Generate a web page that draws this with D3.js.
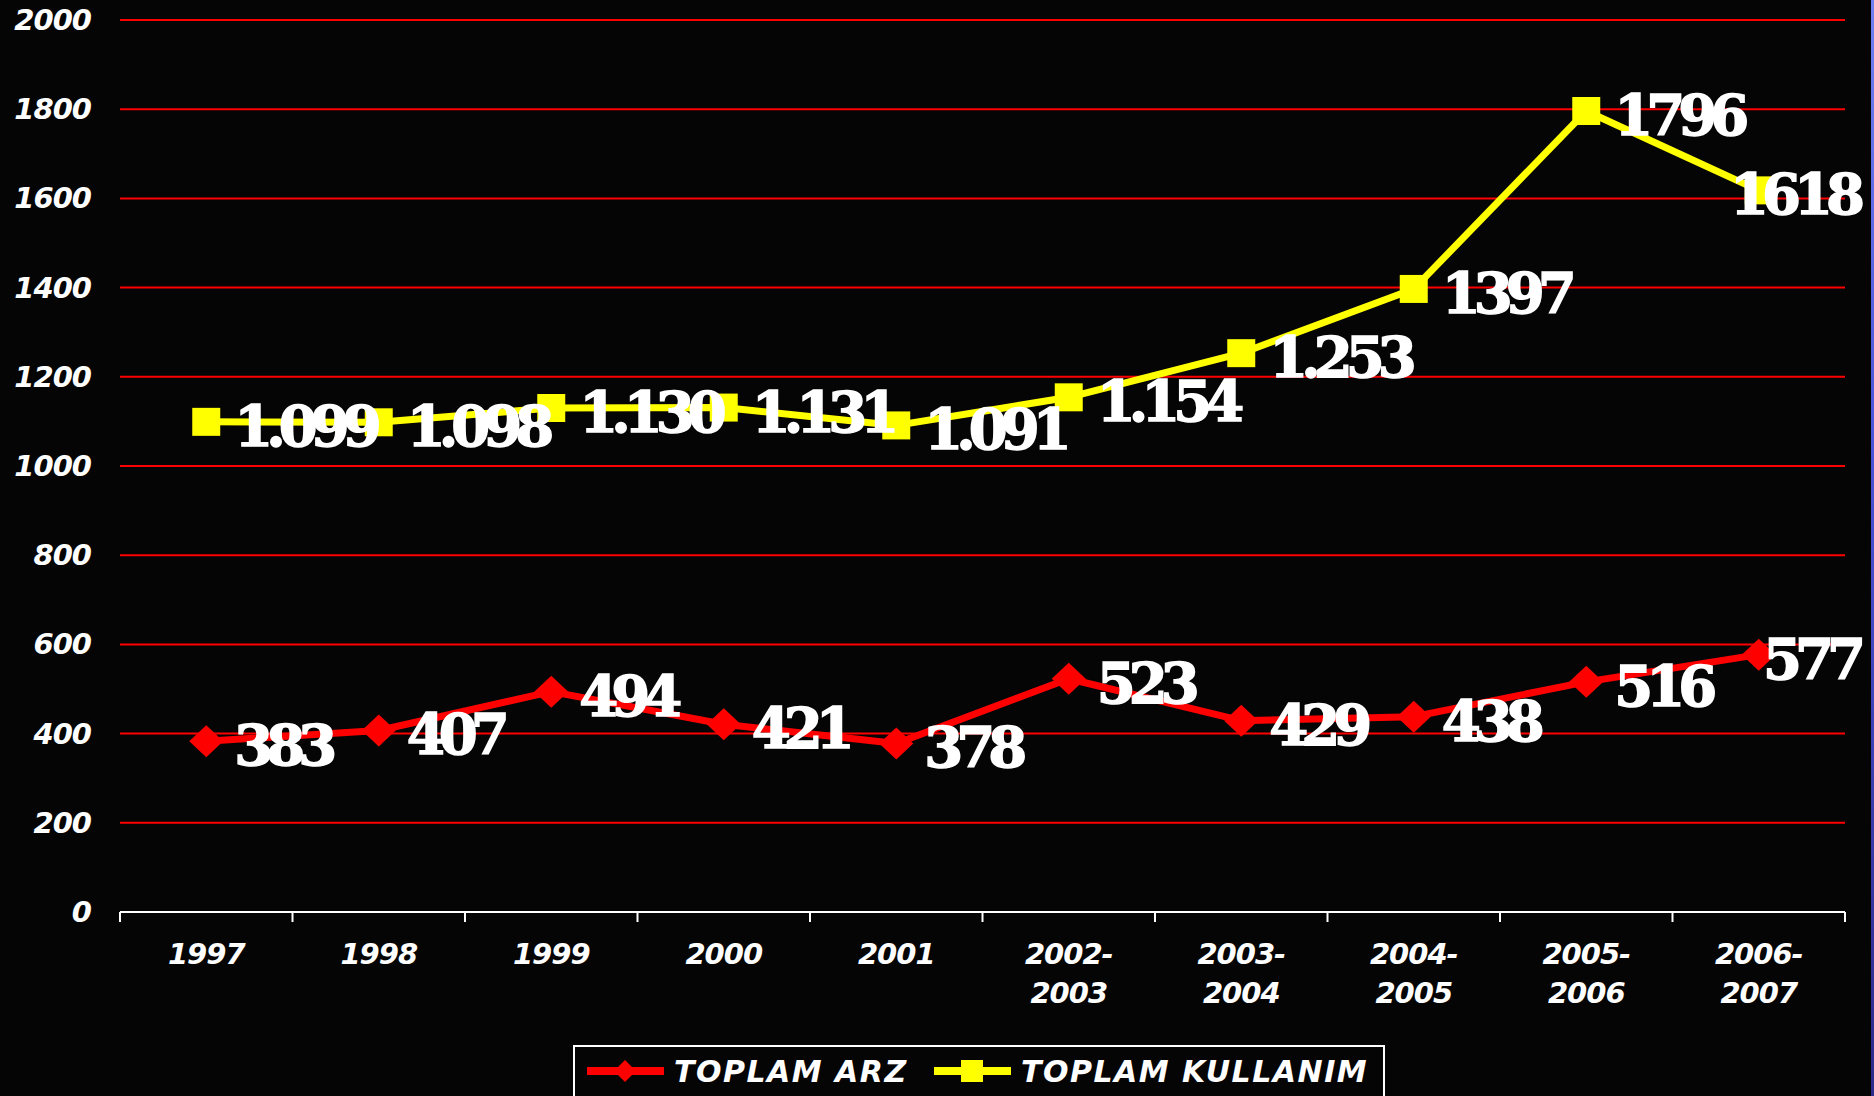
<!DOCTYPE html>
<html>
<head>
<meta charset="utf-8">
<script src="https://cdn.jsdelivr.net/npm/d3@7"></script>
<style>
  html, body { margin: 0; padding: 0; background: #050505; overflow: hidden; }
  svg { display: block; }
  .tick-label { font-family: "DejaVu Sans", sans-serif; font-weight: bold; font-style: italic; font-size: 29px; fill: #fff; letter-spacing: -1px; }
  .val-label { font-family: "DejaVu Serif", serif; font-weight: bold; font-size: 56px; fill: #fff; stroke: #fff; stroke-width: 1.5px; letter-spacing: -7px; }
  .legend-label { font-family: "DejaVu Sans", sans-serif; font-weight: bold; font-style: italic; font-size: 30px; fill: #fff; letter-spacing: 1.5px; }
</style>
</head>
<body>
<svg id="chart" width="1874" height="1096"></svg>
<script>
window.onload = function () {

    // data
    var periods = ['1997', '1998', '1999', '2000', '2001', '2002-2003', '2003-2004', '2004-2005', '2005-2006', '2006-2007'];
    var arzValues = [383, 407, 494, 421, 378, 523, 429, 438, 516, 577];
    var arzLabels = ['383', '407', '494', '421', '378', '523', '429', '438', '516', '577'];
    var kullanimValues = [1099, 1098, 1130, 1131, 1091, 1154, 1253, 1397, 1796, 1618];
    var kullanimLabels = ['1.099', '1.098', '1.130', '1.131', '1.091', '1.154', '1.253', '1397', '1796', '1618'];
    var yTicks = [0, 200, 400, 600, 800, 1000, 1200, 1400, 1600, 1800, 2000];
    var seriesNames = ['TOPLAM ARZ', 'TOPLAM KULLANIM'];

    var svg = d3.select('#chart');
    var W = 1874, H = 1096;

    // blue slide edge on the right
    var grad = svg.append('defs').append('linearGradient')
        .attr('id', 'edge').attr('x1', 0).attr('y1', 0).attr('x2', 0).attr('y2', 1);
    grad.append('stop').attr('offset', '0%').attr('stop-color', '#7080f0');
    grad.append('stop').attr('offset', '40%').attr('stop-color', '#4a55d8');
    grad.append('stop').attr('offset', '100%').attr('stop-color', '#2c2a8a');
    svg.append('rect').attr('x', 1871).attr('y', 0).attr('width', 3).attr('height', H).attr('fill', 'url(#edge)');

    var x = d3.scaleBand().domain(periods).range([120, 1845]).padding(0);
    var y = d3.scaleLinear().domain([0, 2000]).range([912, 20]);
    var cx = function (p) { return x(p) + x.bandwidth() / 2; };

    // grid lines
    svg.append('g').selectAll('line')
        .data(yTicks.filter(function (t) { return t > 0; }))
        .enter().append('line')
        .attr('x1', 120).attr('x2', 1845)
        .attr('y1', function (d) { return y(d); })
        .attr('y2', function (d) { return y(d); })
        .attr('stroke', '#ff0000').attr('stroke-width', 2);

    // y labels
    svg.append('g').selectAll('text')
        .data(yTicks)
        .enter().append('text')
        .attr('class', 'tick-label')
        .attr('x', 91)
        .attr('y', function (d) { return y(d) + 10; })
        .attr('text-anchor', 'end')
        .text(function (d) { return d; });

    // x axis
    var xAxis = svg.append('g');
    xAxis.append('line')
        .attr('x1', 120).attr('x2', 1845).attr('y1', y(0)).attr('y2', y(0))
        .attr('stroke', '#fff').attr('stroke-width', 2);
    var edges = periods.map(function (p) { return x(p); }).concat([x.range()[1]]);
    xAxis.selectAll('line.tk')
        .data(edges)
        .enter().append('line')
        .attr('class', 'tk')
        .attr('x1', function (d) { return d; }).attr('x2', function (d) { return d; })
        .attr('y1', y(0)).attr('y2', y(0) + 10)
        .attr('stroke', '#fff').attr('stroke-width', 2);

    var xl = xAxis.selectAll('text')
        .data(periods)
        .enter().append('text')
        .attr('class', 'tick-label')
        .attr('text-anchor', 'middle')
        .attr('y', 964);
    xl.each(function (p) {
        var parts = p.indexOf('-') > 0 ? [p.split('-')[0] + '-', p.split('-')[1]] : [p];
        var t = d3.select(this);
        parts.forEach(function (s, i) {
            t.append('tspan').attr('x', cx(p)).attr('dy', i === 0 ? 0 : 39).text(s);
        });
    });

    var line = d3.line()
        .x(function (d) { return cx(d.p); })
        .y(function (d) { return y(d.v); });

    function drawSeries(values, labels, color, marker) {
        var pts = periods.map(function (p, i) { return { p: p, v: values[i], l: labels[i] }; });
        var g = svg.append('g');
        g.append('path').datum(pts)
            .attr('d', line)
            .attr('fill', 'none')
            .attr('stroke', color)
            .attr('stroke-width', 7)
            .attr('stroke-linejoin', 'round');
        g.selectAll('path.m')
            .data(pts)
            .enter().append('path')
            .attr('class', 'm')
            .attr('transform', function (d) { return 'translate(' + cx(d.p) + ',' + y(d.v) + ')'; })
            .attr('d', marker)
            .attr('fill', color);
        return pts;
    }

    var diamond = 'M0,-16L17,0L0,16L-17,0Z';
    var square = 'M-14,-14H14V14H-14Z';

    var arzPts = drawSeries(arzValues, arzLabels, '#ff0000', diamond);
    var kulPts = drawSeries(kullanimValues, kullanimLabels, '#ffff00', square);

    // value labels (pushed left when they would run past the slide edge)
    function drawLabels(pts) {
        svg.append('g').selectAll('text')
            .data(pts)
            .enter().append('text')
            .attr('class', 'val-label')
            .attr('y', function (d) { return y(d.v) + 24; })
            .text(function (d) { return d.l; })
            .attr('x', function (d) {
                var w = this.getBBox().width;
                return Math.min(cx(d.p) + 28, 1862 - w);
            });
    }
    drawLabels(arzPts);
    drawLabels(kulPts);

    // legend
    var lg = svg.append('g');
    lg.append('rect')
        .attr('x', 574).attr('y', 1046).attr('width', 810).attr('height', 80)
        .attr('fill', 'none').attr('stroke', '#fff').attr('stroke-width', 2);
    var legendItems = [
        { name: seriesNames[0], color: '#ff0000', marker: 'M0,-11L11,0L0,11L-11,0Z', x: 587 },
        { name: seriesNames[1], color: '#ffff00', marker: 'M-11,-11H11V11H-11Z', x: 934 }
    ];
    legendItems.forEach(function (it) {
        lg.append('line')
            .attr('x1', it.x).attr('x2', it.x + 77).attr('y1', 1071).attr('y2', 1071)
            .attr('stroke', it.color).attr('stroke-width', 8);
        lg.append('path')
            .attr('transform', 'translate(' + (it.x + 38) + ',1071)')
            .attr('d', it.marker).attr('fill', it.color);
        lg.append('text')
            .attr('class', 'legend-label')
            .attr('x', it.x + 87).attr('y', 1082)
            .text(it.name);
    });
};
</script>
</body>
</html>
